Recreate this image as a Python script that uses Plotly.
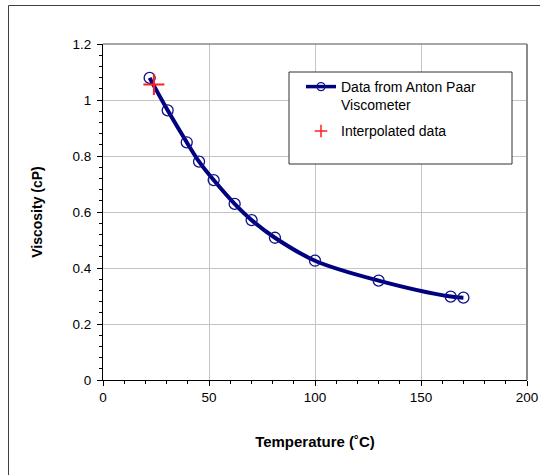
import plotly.graph_objects as go

# Data
temp_c = [22, 30.5, 39.5, 45.3, 52.2, 62.1, 70.1, 81.1, 100, 130, 164, 170]
viscosity_cp = [1.079, 0.963, 0.849, 0.780, 0.714, 0.629, 0.571, 0.508, 0.426, 0.355, 0.298, 0.294]
interp_temp = [24]
interp_visc = [1.055]

series_names = ["Data from Anton Paar<br>Viscometer", "Interpolated data"]
x_title = "Temperature (˚C)"
y_title = "Viscosity (cP)"

NAVY = "#000080"
FONT = "Arial, Liberation Sans, sans-serif"

fig = go.Figure()

fig.add_trace(go.Scatter(
    x=temp_c, y=viscosity_cp, mode="lines+markers",
    line=dict(color=NAVY, width=4, shape="spline", smoothing=1),
    marker=dict(symbol="circle-open", size=11, color="#10108a", line=dict(width=1.3, color="#10108a")),
    showlegend=False,
))
fig.add_trace(go.Scatter(
    x=interp_temp, y=interp_visc, mode="markers",
    marker=dict(symbol="cross-thin-open", size=15, line=dict(width=2, color="#ff2020"), color="#ff2020"),
    showlegend=False,
))
# legend entries
fig.add_trace(go.Scatter(
    x=[None], y=[None], mode="lines+markers", name=series_names[0], legendgroup="a",
    line=dict(color=NAVY, width=3.5),
    marker=dict(symbol="circle-open", size=8, color="#10108a", line=dict(width=1.3, color="#10108a")),
))
fig.add_trace(go.Scatter(
    x=[None], y=[None], mode="markers", name=series_names[1], legendgroup="b",
    marker=dict(symbol="cross-thin-open", size=9, line=dict(width=1.5, color="#ff2020"), color="#ff2020"),
))

L, R, T, B = 103, 13, 44, 95
W, H = 540, 475
pw, ph = W - L - R, H - T - B

def px(xp):
    return (xp - L) / pw

def py(yp):
    return (H - B - yp) / ph

shapes = [
    # outer frame
    dict(type="rect", xref="paper", yref="paper", x0=px(8.5), x1=px(560), y0=py(5.5), y1=py(500),
         line=dict(color="#404040", width=1), fillcolor="rgba(0,0,0,0)", layer="below"),
    # plot border top / right (gray)
    dict(type="line", xref="paper", yref="paper", x0=0, x1=1, y0=1, y1=1,
         line=dict(color="#8a8a8a", width=1.5)),
    dict(type="line", xref="paper", yref="paper", x0=1, x1=1, y0=0, y1=1,
         line=dict(color="#8a8a8a", width=2)),
    # legend box
    dict(type="rect", xref="paper", yref="paper", x0=px(289), x1=px(512), y0=py(164), y1=py(72),
         line=dict(color="#303030", width=1), fillcolor="white", layer="above"),
]

axis_common = dict(
    showline=True, linecolor="black", linewidth=1,
    ticks="outside", ticklen=5, tickcolor="black", tickwidth=1,
    showgrid=True, gridcolor="#c4c4c4", gridwidth=1, zeroline=False,
    tickfont=dict(family=FONT, size=13.5, color="black"),
    automargin=False,
)

fig.update_layout(
    width=W, height=H,
    margin=dict(l=L, r=R, t=T, b=B),
    paper_bgcolor="white", plot_bgcolor="white",
    font=dict(family=FONT, color="black"),
    shapes=shapes,
    xaxis=dict(
        range=[0, 200], tick0=0, dtick=50,
        minor=dict(dtick=10, ticks="outside", ticklen=3, tickcolor="black", showgrid=False),
        title=dict(text=x_title, font=dict(family=FONT, size=15, color="black", weight="bold"), standoff=32),
        **axis_common,
    ),
    yaxis=dict(
        range=[0, 1.2], tick0=0, dtick=0.2,
        minor=dict(dtick=0.04, ticks="outside", ticklen=3, tickcolor="black", showgrid=False),
        title=dict(text=y_title, font=dict(family=FONT, size=14, color="black", weight="bold"), standoff=26),
        ticklabelstandoff=3,
        **axis_common,
    ),
    legend=dict(
        x=px(301), y=py(71), xanchor="left", yanchor="top",
        bgcolor="rgba(0,0,0,0)", borderwidth=0, valign="top",
        font=dict(family=FONT, size=14, color="black"),
        tracegroupgap=5,
    ),
)

fig.write_html(
    "out.html",
    config={"displayModeBar": False},
    post_script="document.body.style.margin='0';document.body.style.padding='0';",
)
